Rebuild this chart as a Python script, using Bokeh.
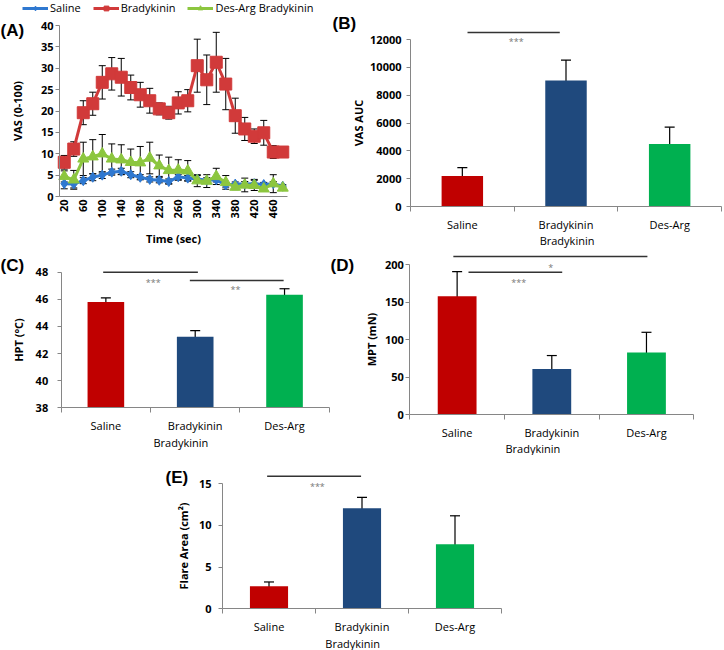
import math
from bokeh.plotting import figure
from bokeh.models import (Range1d, FixedTicker, Whisker, TeeHead, ColumnDataSource,
                          Legend, LegendItem, Label, Spacer)
from bokeh.layouts import column, row
from bokeh.core.properties import value
from bokeh.embed import file_html
from bokeh.resources import INLINE

# ---------------- data ----------------
time_sec = [20, 40, 60, 80, 100, 120, 140, 160, 180, 200, 220, 240,
            260, 280, 300, 320, 340, 360, 380, 400, 420, 440, 460, 480]
time_ticks = [20, 60, 100, 140, 180, 220, 260, 300, 340, 380, 420, 460]
vas_ticks = [0, 5, 10, 15, 20, 25, 30, 35, 40]

vas_saline = [3.0, 2.9, 3.7, 4.5, 5.0, 5.7, 5.9, 5.1, 4.5, 4.0, 3.8, 3.5,
              4.6, 4.3, 4.1, 3.8, 3.9, 2.7, 2.9, 2.9, 3.0, 2.8, 3.0, 2.4]
vas_saline_err = [1.2, 0.9, 0.7, 0.8, 0.8, 0.7, 0.7, 0.7, 0.6, 0.6, 0.6, 0.6,
                  0.6, 0.6, 0.8, 0.6, 0.5, 0.5, 0.5, 0.6, 1.0, 0.5, 0.5, 0.4]
vas_brady = [8.0, 11.1, 19.6, 21.7, 26.7, 28.7, 27.9, 25.5, 23.8, 22.4, 20.5, 19.6,
             21.9, 22.4, 30.6, 27.3, 31.4, 26.3, 18.9, 15.8, 14.1, 14.9, 10.4, 10.4]
vas_brady_err = [1.6, 1.7, 2.8, 2.7, 3.9, 3.8, 4.4, 2.9, 2.9, 2.9, 1.4, 1.5,
                 2.6, 2.6, 6.2, 5.8, 7.0, 6.0, 4.1, 2.7, 1.7, 2.9, 1.5, 0.8]
vas_desarg = [4.7, 3.9, 8.8, 9.3, 10.0, 8.8, 8.6, 8.0, 7.9, 9.0, 7.2, 6.1,
              6.2, 6.0, 3.7, 3.6, 4.7, 3.3, 2.2, 2.7, 2.6, 1.8, 3.0, 2.0]
vas_desarg_err = [1.3, 2.2, 3.9, 4.0, 4.5, 3.5, 3.5, 3.1, 3.8, 3.7, 2.5, 3.1,
                  2.4, 2.4, 1.4, 1.5, 1.9, 1.6, 0.6, 1.6, 1.2, 0.6, 2.1, 0.5]
series_names = ["Saline", "Bradykinin", "Des-Arg Bradykinin"]

groups = ["Saline", "Bradykinin", "Des-Arg"]
group_second_line = "Bradykinin"

vas_auc = [2200, 9050, 4500]
vas_auc_err = [600, 1470, 1200]
vas_auc_ticks = [0, 2000, 4000, 6000, 8000, 10000, 12000]

hpt = [45.8, 43.24, 46.33]
hpt_err = [0.3, 0.45, 0.45]
hpt_ticks = [38, 40, 42, 44, 46, 48]

mpt = [158, 61, 83]
mpt_err = [33, 18, 27]
mpt_ticks = [0, 50, 100, 150, 200]

flare = [2.72, 12.08, 7.76]
flare_err = [0.5, 1.3, 3.4]
flare_ticks = [0, 5, 10, 15]

# significance brackets: (x_from, x_to, y_line, x_text, y_text, stars)
sig_B = [(1.05, 1.94, 12500, 1.52, 11850, "***")]
sig_C = [(0.97, 2.03, 48.0, 1.53, 47.25, "***"),
         (1.94, 2.99, 47.39, 2.45, 46.75, "**")]
sig_D = [(0.96, 3.01, 211, 1.99, 197, "*"),
         (1.12, 2.11, 190, 1.65, 176, "***")]
sig_E = [(0.98, 1.99, 15.9, 1.52, 14.7, "***")]

# ---------------- style ----------------
FONT = "Open Sans"
AX = "#868686"
bar_colors = ["#C00000", "#1F497D", "#00B050"]
line_colors = ["#2F78D0", "#D13A3A", "#8CC63F"]
markers = ["diamond", "square", "triangle"]
marker_sizes = [10, 12, 11]


def make_fig(w, h, ax_x, ax_y, xr, xpx, yr, ypx):
    """Figure whose frame fills the whole canvas; axes sit at fixed data positions."""
    x0, x1 = xr
    y0, y1 = yr
    kx = xpx / (x1 - x0)
    ky = ypx / (y1 - y0)
    xs = x0 - ax_x / kx
    xe = xs + w / kx
    ys = y0 - (h - ax_y) / ky
    ye = ys + h / ky
    p = figure(width=w, height=h, x_range=Range1d(xs, xe), y_range=Range1d(ys, ye),
               output_backend="svg", toolbar_location=None, min_border=0)
    p.outline_line_color = None
    p.grid.visible = False
    p.background_fill_color = "white"
    p.border_fill_color = "white"
    for ax in p.axis:
        ax.axis_line_color = AX
        ax.major_tick_line_color = AX
        ax.minor_tick_line_color = AX
        ax.major_label_text_font = FONT
        ax.major_label_text_font_size = "11px"
        ax.major_label_text_color = "black"
        ax.axis_label_text_font = FONT
        ax.axis_label_text_font_size = "11px"
        ax.axis_label_text_font_style = "bold"
        ax.axis_label_text_color = "black"
    p.xaxis.fixed_location = y0
    p.yaxis.fixed_location = x0
    p.xaxis.bounds = (x0, x1)

    def to_data(lx, ly):
        return xs + lx / kx, ye - ly / ky
    return p, to_data


def style_y(p, ticks, label, standoff, label_standoff):
    ax = p.yaxis[0]
    ax.ticker = FixedTicker(ticks=ticks)
    ax.bounds = (ticks[0], ticks[-1])
    ax.major_tick_out = 4
    ax.major_tick_in = 0
    ax.minor_tick_out = 0
    ax.minor_tick_in = 0
    ax.major_label_text_font_style = "bold"
    ax.major_label_standoff = standoff
    ax.axis_label = label
    ax.axis_label_standoff = label_standoff


def panel_label(p, to_data, text, lx, ly):
    x, y = to_data(lx, ly)
    p.add_layout(Label(x=x, y=y, text=text,
                       text_font="Liberation Sans", text_font_size="17px",
                       text_font_style="bold", text_baseline="middle",
                       text_align="left", text_color="black"))


def bar_panel(w, h, ax_x, ax_y, xpx, ypx, ticks, vals, errs, ylabel, y_std, y_lab_std,
              line2_x, line2_ly, sigs, bar_w, tag, tag_lx, tag_ly):
    xs = [i + 1 for i in range(len(groups))]
    p, to_data = make_fig(w, h, ax_x, ax_y, (0.5, len(groups) + 0.5), xpx,
                          (ticks[0], ticks[-1]), ypx)
    style_y(p, ticks, ylabel, y_std, y_lab_std)
    ax = p.xaxis[0]
    ax.ticker = FixedTicker(ticks=xs, minor_ticks=[x - 0.5 for x in xs] + [xs[-1] + 0.5])
    ax.major_tick_out = 0
    ax.major_tick_in = 0
    ax.minor_tick_out = 5
    ax.minor_tick_in = 0
    ax.major_label_standoff = 5
    ax.major_label_overrides = {x: g for x, g in zip(xs, groups)}
    p.vbar(x=xs, top=vals, bottom=ticks[0], width=bar_w, fill_color=bar_colors,
           line_color=None)
    src = ColumnDataSource(dict(x=xs, upper=[v + e for v, e in zip(vals, errs)],
                                lower=[v - e for v, e in zip(vals, errs)]))
    p.add_layout(Whisker(source=src, base="x", upper="upper", lower="lower",
                         line_color="black", line_width=1.2,
                         upper_head=TeeHead(size=10, line_color="black", line_width=1.2),
                         lower_head=TeeHead(size=10, line_color="black", line_width=1.2)))
    p.segment(x0=[s[0] for s in sigs], x1=[s[1] for s in sigs],
              y0=[s[2] for s in sigs], y1=[s[2] for s in sigs],
              line_color="#333333", line_width=1.5)
    p.text(x=[s[3] for s in sigs], y=[s[4] for s in sigs], text=[s[5] for s in sigs],
           text_font=value(FONT), text_font_size="9px", text_color="#777777",
           text_align="center", text_baseline="middle")
    _, ly = to_data(0, line2_ly)
    p.add_layout(Label(x=line2_x, y=ly, text=group_second_line, text_font=FONT,
                       text_font_size="11px", text_align="center",
                       text_baseline="middle", text_color="black"))
    panel_label(p, to_data, tag, tag_lx, tag_ly)
    return p


# ---------------- panel A ----------------
pA, toA = make_fig(328, 250, 59, 196, (10, 490), 228, (0, 40), 171)
style_y(pA, vas_ticks, "VAS (0-100)", 2, 13)
axA = pA.xaxis[0]
axA.ticker = FixedTicker(ticks=time_ticks)
axA.major_tick_out = 0
axA.major_tick_in = 0
axA.major_label_orientation = math.pi / 2
axA.major_label_text_font_style = "bold"
axA.major_label_standoff = 3
axA.axis_label = "Time (sec)"
axA.axis_label_standoff = 10

items = []
series = [(vas_saline, vas_saline_err), (vas_brady, vas_brady_err), (vas_desarg, vas_desarg_err)]
for i, (vals, errs) in enumerate(series):
    src = ColumnDataSource(dict(x=time_sec, upper=[v + e for v, e in zip(vals, errs)],
                                lower=[v - e for v, e in zip(vals, errs)]))
    pA.add_layout(Whisker(source=src, base="x", upper="upper", lower="lower",
                          level="underlay", line_color="black", line_width=1,
                          upper_head=TeeHead(size=7, line_color="black", line_width=1),
                          lower_head=TeeHead(size=7, line_color="black", line_width=1)))
for i, (vals, errs) in enumerate(series):
    ln = pA.line(time_sec, vals, line_color=line_colors[i], line_width=3)
    mk = pA.scatter(time_sec, vals, marker=markers[i], size=marker_sizes[i],
                    fill_color=line_colors[i], line_color=line_colors[i])
    items.append(LegendItem(label=series_names[i], renderers=[ln, mk]))

leg = Legend(items=items, orientation="horizontal", location=(22, 235),
             glyph_width=26, glyph_height=12, label_height=12, label_standoff=2,
             spacing=12, padding=0, margin=0, border_line_color=None,
             background_fill_alpha=0, label_text_font=FONT,
             label_text_font_size="11px", label_text_color="black")
pA.add_layout(leg)
panel_label(pA, toA, "(A)", 0, 30)

# ---------------- panel B ----------------
pB = bar_panel(396, 250, 82, 206, 311, 167, vas_auc_ticks, vas_auc, vas_auc_err,
               "VAS AUC", 5, 1, 2.01, 240, sig_B, 0.40, "(B)", 4, 23)

# ---------------- panel C ----------------
pC = bar_panel(330, 205, 60.7, 157.3, 268, 135.6, hpt_ticks, hpt, hpt_err,
               "HPT (\u00b0C)", 9, 7, 1.84, 192, sig_C, 0.41, "(C)", 0, 15)

# ---------------- panel D ----------------
pD = bar_panel(394, 205, 79.3, 164.3, 284, 150, mpt_ticks, mpt, mpt_err,
               "MPT (mN)", 2, 3, 1.8, 198, sig_D, 0.41, "(D)", 0, 15)

# ---------------- panel E ----------------
pE = bar_panel(566, 195, 64, 153.3, 279, 125, flare_ticks, flare, flare_err,
               "Flare Area (cm\u00b2)", 7, 5, 1.9, 188, sig_E, 0.41, "(E)", 7, 22)

layout = column(row(pA, pB), row(pC, pD), row(Spacer(width=158, height=195), pE))

open("out.html", "w").write(file_html(layout, INLINE))
